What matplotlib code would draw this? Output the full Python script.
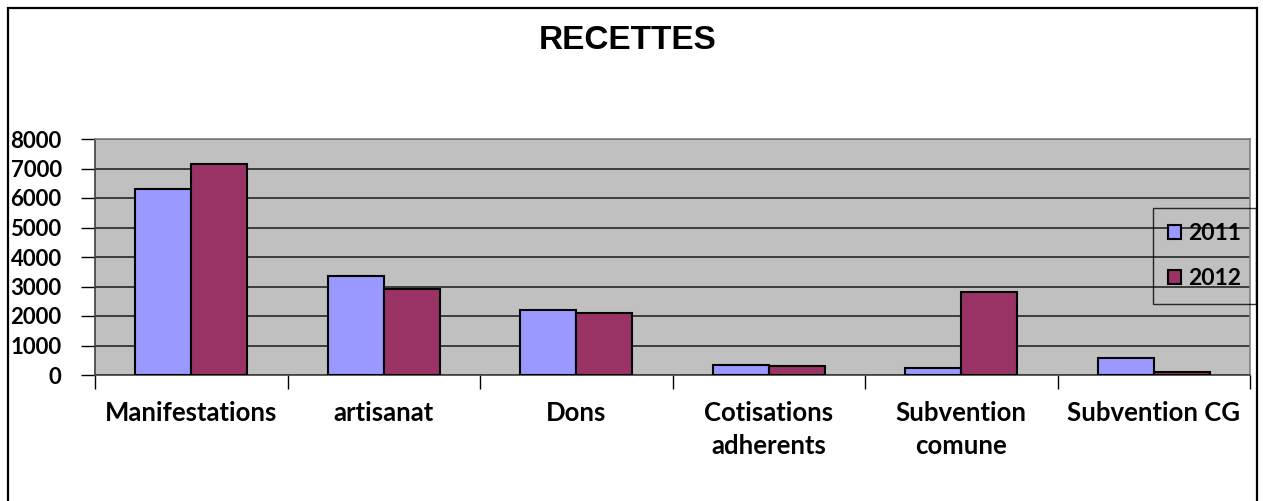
import matplotlib
matplotlib.use("Agg")
import matplotlib.pyplot as plt
import numpy as np
from matplotlib.patches import Rectangle

categories = ["Manifestations", "artisanat", "Dons", "Cotisations\nadherents",
              "Subvention\ncomune", "Subvention CG"]
series_names = ["2011", "2012"]
values_2011 = [6300, 3350, 2200, 350, 250, 570]
values_2012 = [7150, 2900, 2100, 300, 2800, 100]
yticks = [0, 1000, 2000, 3000, 4000, 5000, 6000, 7000, 8000]
title = "RECETTES"

colors = ["#9999FF", "#993366"]
W, H = 1263, 501
fig = plt.figure(figsize=(W / 100, H / 100), dpi=100)
fig.patch.set_facecolor("white")

# outer frame
fig.add_artist(Rectangle((8 / W, -0.2), (1257 - 8) / W, 1.2 - 8 / H,
                         transform=fig.transFigure, fill=False,
                         edgecolor="black", linewidth=1.6))

ax = fig.add_axes([95 / W, 1 - 375 / H, (1250 - 95) / W, (375 - 139) / H])
ax.set_facecolor("#C0C0C0")

x = np.arange(len(categories))
bw = 0.29
ax.bar(x - bw / 2, values_2011, bw, color=colors[0], edgecolor="black",
       linewidth=1.5, zorder=3, label=series_names[0])
ax.bar(x + bw / 2, values_2012, bw, color=colors[1], edgecolor="black",
       linewidth=1.5, zorder=3, label=series_names[1])

ax.set_xlim(-0.5, len(categories) - 0.5)
ax.set_ylim(0, 8000)
ax.set_yticks(yticks)
ax.yaxis.grid(True, color="#1a1a1a", linewidth=1.1, zorder=1)
ax.set_axisbelow(True)

tickfont = dict(family="Lato", weight="bold", size=16)
ax.set_yticklabels([str(v) for v in yticks], fontdict=tickfont)
ax.tick_params(axis="y", length=10, width=1, color="black", pad=14)

ax.set_xticks(x)
ax.set_xticklabels(categories, fontdict=dict(family="Lato", weight="bold", size=18.5),
                   linespacing=1.45, va="top")
ax.tick_params(axis="x", which="major", length=0, pad=19)
ax.set_xticks(np.arange(-0.5, len(categories)), minor=True)
ax.tick_params(axis="x", which="minor", length=10, width=1, color="black")

for s in ax.spines.values():
    s.set_color("#808080")
    s.set_linewidth(1.2)
ax.spines["left"].set_color("#404040")
ax.spines["bottom"].set_color("#404040")

fig.text(628 / W, 1 - 41 / H, title, ha="center", va="center",
         family="Liberation Sans", weight="bold", size=24)

leg = fig.legend(loc="upper left", bbox_to_anchor=(1153 / W, 1 - 208 / H),
                 bbox_transform=fig.transFigure, borderaxespad=0,
                 prop=dict(family="Lato", weight="bold", size=16.5),
                 frameon=True, fancybox=False, labelspacing=1.05,
                 handlelength=0.55, handleheight=0.55, handletextpad=0.35,
                 borderpad=0.65)
leg.get_frame().set_facecolor("none")
leg.get_frame().set_edgecolor("black")
leg.get_frame().set_linewidth(1.0)

fig.savefig("out.png", dpi=100)
